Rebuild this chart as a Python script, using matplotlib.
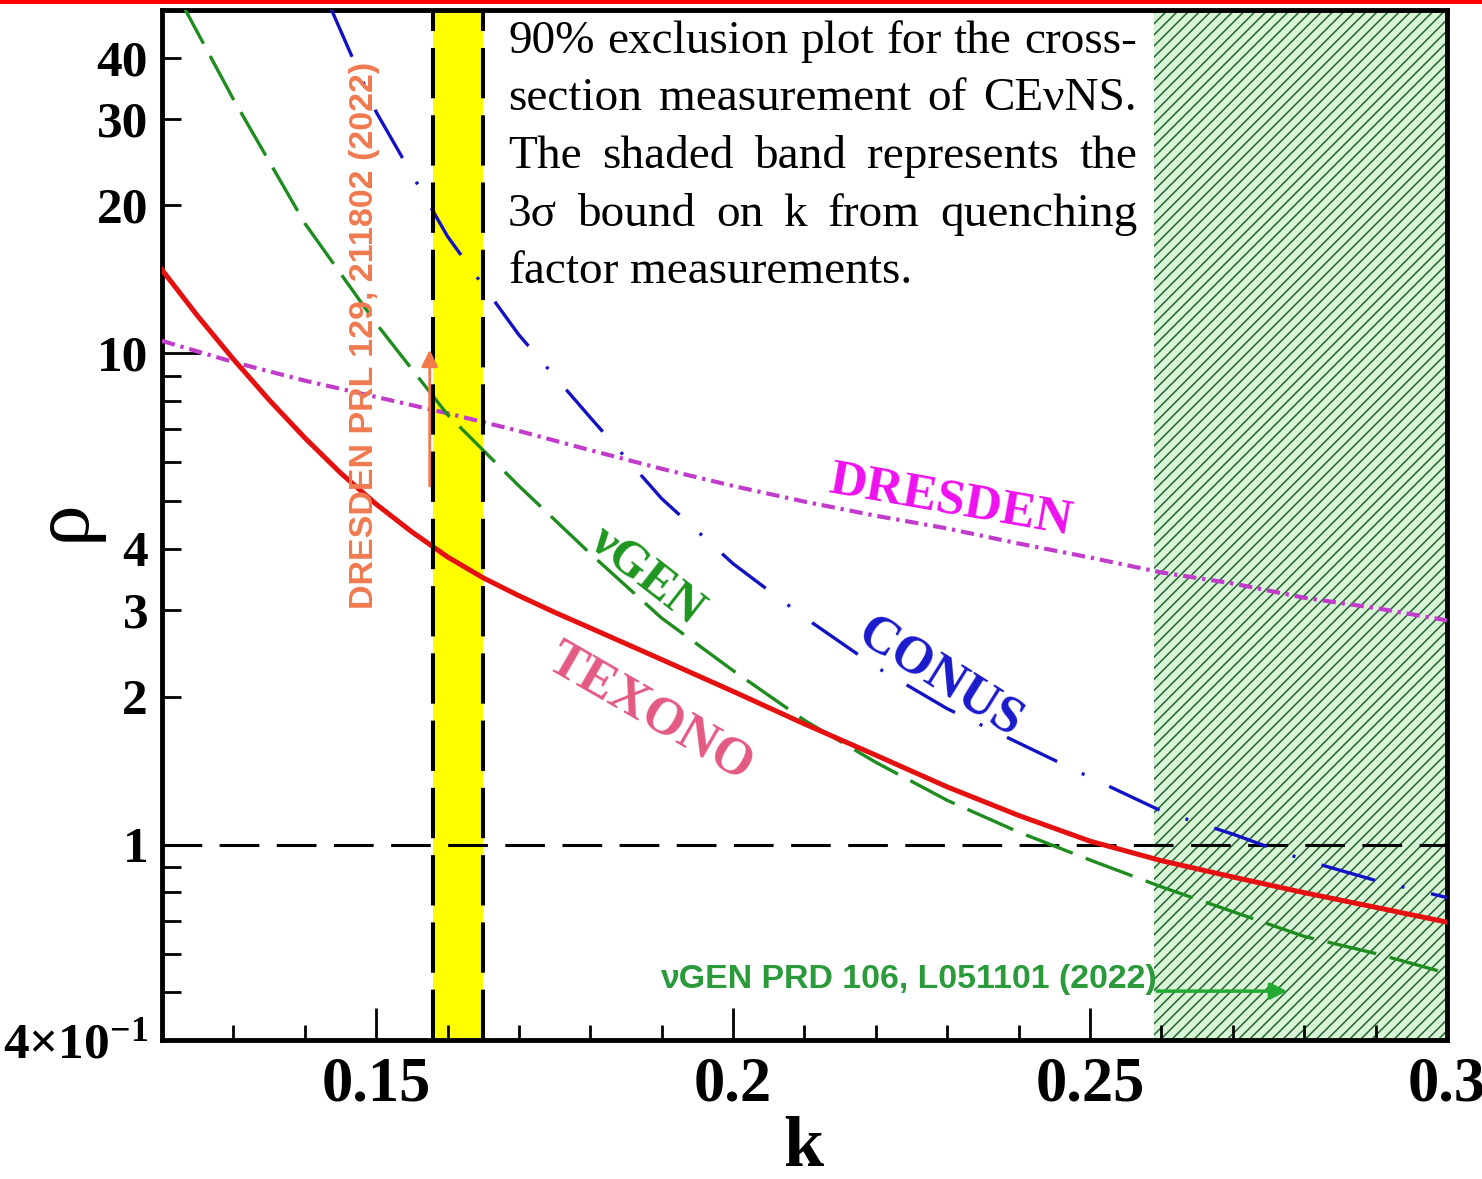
import matplotlib
matplotlib.use('Agg')
import matplotlib.pyplot as plt
from matplotlib.ticker import FixedLocator, FixedFormatter
from matplotlib.patches import Rectangle

plt.rcParams['font.family'] = ['Liberation Serif', 'DejaVu Serif']
plt.rcParams['font.weight'] = 'bold'
plt.rcParams['mathtext.fontset'] = 'custom'
plt.rcParams['mathtext.rm'] = 'Liberation Serif:bold'
plt.rcParams['mathtext.bf'] = 'Liberation Serif:bold'
plt.rcParams['mathtext.default'] = 'rm'
plt.rcParams['hatch.linewidth'] = 1.1

# ---- data ----
texono_k = [0.12, 0.125, 0.13, 0.135, 0.14, 0.145, 0.15, 0.155, 0.16, 0.165, 0.17, 0.175,
            0.18, 0.19, 0.2, 0.21, 0.22, 0.23, 0.24, 0.25, 0.26, 0.27, 0.28, 0.29, 0.3]
texono_rho = [14.79, 11.91, 9.73, 8.04, 6.73, 5.71, 4.93, 4.33, 3.85, 3.49, 3.21, 2.97,
              2.76, 2.38, 2.05, 1.76, 1.52, 1.31, 1.146, 1.016, 0.927, 0.859, 0.798, 0.745, 0.695]

vgen_k = [0.1225, 0.13, 0.14, 0.15, 0.16, 0.17, 0.18, 0.19, 0.2, 0.21, 0.22, 0.23,
          0.24, 0.25, 0.26, 0.27, 0.28, 0.29, 0.3]
vgen_rho = [52.5, 32.9, 18.4, 11.5, 7.5, 5.37, 3.91, 2.89, 2.26, 1.79, 1.47, 1.23,
            1.06, 0.93, 0.82, 0.73, 0.65, 0.60, 0.547]

conus_k = [0.1435, 0.15, 0.16, 0.17, 0.18, 0.19, 0.2, 0.21, 0.22, 0.23, 0.24, 0.25,
           0.26, 0.27, 0.28, 0.29, 0.3]
conus_rho = [51, 31.0, 17.3, 10.9, 7.4, 5.06, 3.73, 2.90, 2.30, 1.89, 1.61, 1.37,
             1.17, 1.05, 0.93, 0.845, 0.78]

dresden_k = [0.12, 0.13, 0.14, 0.15, 0.16, 0.17, 0.18, 0.19, 0.2, 0.21, 0.22, 0.23,
             0.24, 0.25, 0.26, 0.27, 0.28, 0.29, 0.3]
dresden_rho = [10.6, 9.6, 8.8, 8.15, 7.55, 6.95, 6.35, 5.82, 5.37, 4.99, 4.67, 4.40,
               4.10, 3.84, 3.58, 3.40, 3.18, 3.03, 2.86]

quench_band = [0.158, 0.165]      # 3 sigma bound on k
vgen_excluded = [0.259, 0.30]

xtick_vals = [0.15, 0.2, 0.25, 0.3]
xtick_labels = ['0.15', '0.2', '0.25', '0.3']
xminor_vals = [0.12, 0.13, 0.14, 0.16, 0.17, 0.18, 0.19, 0.21, 0.22, 0.23, 0.24,
               0.26, 0.27, 0.28, 0.29]
ytick_vals = [1, 10]
ytick_labels = ['1', '10']
yminor_vals = [0.4, 0.5, 0.6, 0.7, 0.8, 0.9, 2, 3, 4, 5, 6, 7, 8, 9, 20, 30, 40]
yminor_labels = [r'$4{\times}10^{-1}$', '', '', '', '', '', '2', '3', '4', '', '', '', '',
                 '', '20', '30', '40']

caption = ['90% exclusion plot for the cross-',
           'section measurement of CE\u03bdNS.',
           'The shaded band represents the',
           '3\u03c3 bound on k from quenching',
           'factor measurements.']

W, H = 1482, 1179
fig = plt.figure(figsize=(W / 100, H / 100), dpi=100)
ax = fig.add_axes([162 / W, 1 - 1040 / H, 1285 / W, 1030 / H])
ax.set_yscale('log')
ax.set_xlim(0.12, 0.3)
ax.set_ylim(0.4, 50)

# bands
ax.axvspan(quench_band[0], quench_band[1], color='#ffff00', lw=0, zorder=1)
for xb in quench_band:
    ax.axvline(xb, color='black', lw=2.9, ls=(0, (12.5, 4.2)), zorder=4)
ax.axvspan(vgen_excluded[0], vgen_excluded[1], facecolor='#d8f5d8', edgecolor='#24622e',
           hatch='///', lw=0, zorder=1)
ax.axhline(1, color='black', lw=2.2, ls=(0, (13, 5.7)), zorder=3)

# curves
ax.plot(dresden_k, dresden_rho, color='#c23ccc', lw=3.0, ls=(0, (3.2, 1.4, 0.8, 1.4)), zorder=3)
ax.plot(conus_k, conus_rho, color='#1212c4', lw=2.4, ls=(0, (16.7, 8.2, 0.9, 8.2)), zorder=3)
ax.plot(vgen_k, vgen_rho, color='#1e8c1e', lw=2.4, ls=(0, (15, 4.2)), zorder=3)
ax.plot(texono_k, texono_rho, color='#e51010', lw=3.6, zorder=3)

# curve labels
ax.text(0.2304, 5.01, 'DRESDEN', color='#ee11ee', fontsize=37, rotation=-10,
        ha='center', va='center', zorder=5)
ax.text(0.1879, 3.53, '\u03bdGEN', color='#1e961e', fontsize=36, rotation=-38,
        ha='center', va='center', zorder=5)
ax.text(0.229, 2.19, 'CONUS', color='#1a1acc', fontsize=38, rotation=-32,
        ha='center', va='center', zorder=5)
ax.text(0.1883, 1.86, 'TEXONO', color='#e35a82', fontsize=38, rotation=-30,
        ha='center', va='center', zorder=5)

ax.text(0.1484, 10.9, 'DRESDEN PRL 129, 211802 (2022)', color='#f07a50', fontsize=24.5,
        family='Liberation Sans', rotation=90, ha='center', va='center', zorder=5)
ax.annotate('', xy=(0.1575, 10.3), xytext=(0.1575, 5.3),
            arrowprops=dict(arrowstyle='-|>', color='#f07a4a', lw=2, mutation_scale=25), zorder=5)
ax.text(0.2246, 0.53, '\u03bdGEN PRD 106, L051101 (2022)', color='#2a9a3a', fontsize=24.4,
        family='Liberation Sans', ha='center', va='center', zorder=5)
ax.annotate('', xy=(0.278, 0.503), xytext=(0.259, 0.503),
            arrowprops=dict(arrowstyle='-|>', color='#22aa33', lw=2.5, mutation_scale=25), zorder=5)

# axes styling
for sp in ax.spines.values():
    sp.set_linewidth(3.5)
ax.xaxis.set_major_locator(FixedLocator(xtick_vals))
ax.xaxis.set_major_formatter(FixedFormatter(xtick_labels))
ax.xaxis.set_minor_locator(FixedLocator(xminor_vals))
ax.yaxis.set_major_locator(FixedLocator(ytick_vals))
ax.yaxis.set_major_formatter(FixedFormatter(ytick_labels))
ax.yaxis.set_minor_locator(FixedLocator(yminor_vals))
ax.yaxis.set_minor_formatter(FixedFormatter(yminor_labels))
ax.tick_params(axis='x', which='major', direction='in', length=23, width=2, pad=12, labelsize=45)
ax.tick_params(axis='x', which='minor', direction='in', length=11, width=2)
ax.tick_params(axis='y', which='major', direction='in', length=27, width=2, pad=10, labelsize=37)
ax.tick_params(axis='y', which='minor', direction='in', length=14, width=2, pad=10, labelsize=37)

ax.set_xlabel('k', fontsize=52, fontweight='bold')
ax.xaxis.set_label_coords(0.499, -0.074)
ax.set_ylabel('\u03c1', fontsize=60, fontweight='normal')
ax.yaxis.set_label_coords(-0.047, 0.505)

# caption, justified line by line
renderer = fig.canvas.get_renderer()
x0, x1 = 508, 1137
for i, line in enumerate(caption):
    yb = 1 - (53 + 57.5 * i) / H
    words = line.split()
    texts = [fig.text(x0 / W, yb, wd, fontsize=34, fontweight='normal', va='baseline')
             for wd in words]
    widths = [t.get_window_extent(renderer).width for t in texts]
    if i == len(caption) - 1:
        gap = 34 * 0.25 * 100 / 72
    else:
        gap = (x1 - x0 - sum(widths)) / (len(words) - 1)
    x = x0
    for t, wdt in zip(texts, widths):
        t.set_x(x / W)
        x += wdt + gap

fig.add_artist(Rectangle((0, 1 - 4 / H), 1, 4 / H, transform=fig.transFigure,
                         color='#ff0000', lw=0))

fig.savefig('out.png', dpi=100)
